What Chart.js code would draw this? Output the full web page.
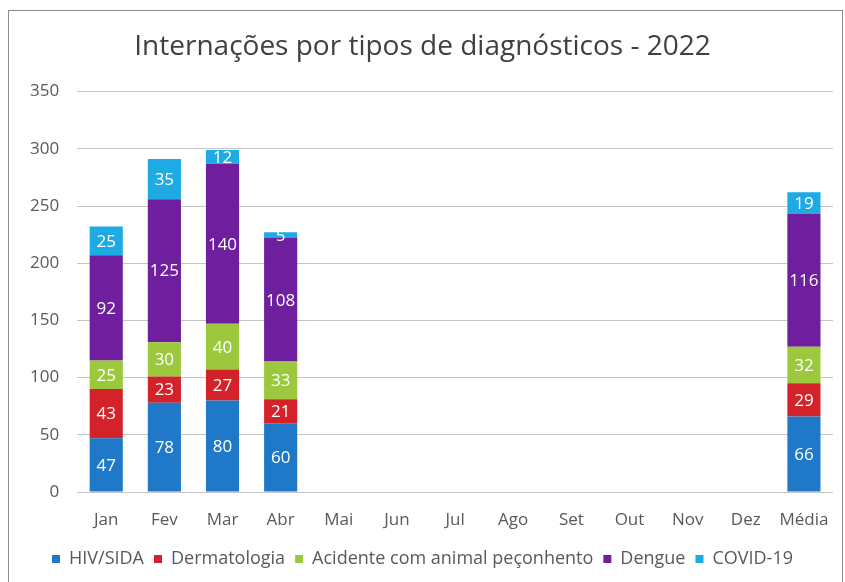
<!DOCTYPE html>
<html>
<head>
<meta charset="utf-8">
<script src="https://cdn.jsdelivr.net/npm/chart.js@4"></script>
<style>
  body { margin: 0; background: #ffffff; }
  #wrap { position: absolute; left: 0; top: 0; width: 845px; height: 582px; }
</style>
</head>
<body>
<div id="wrap"><canvas id="chart" width="845" height="582"></canvas></div>
<script>
// Categories and series
const months = ['Jan', 'Fev', 'Mar', 'Abr', 'Mai', 'Jun', 'Jul', 'Ago', 'Set', 'Out', 'Nov', 'Dez', 'Média'];
const hivSida      = [47, 78, 80, 60, null, null, null, null, null, null, null, null, 66];
const dermatologia = [43, 23, 27, 21, null, null, null, null, null, null, null, null, 29];
const acidente     = [25, 30, 40, 33, null, null, null, null, null, null, null, null, 32];
const dengue       = [92, 125, 140, 108, null, null, null, null, null, null, null, null, 116];
const covid        = [25, 35, 12, 5, null, null, null, null, null, null, null, null, 19];

const FONT = "'Open Sans', 'Liberation Sans', sans-serif";

// draws the white value inside each stacked segment
const valueLabels = {
    id: 'valueLabels',
    afterDatasetsDraw(chart) {
        const ctx = chart.ctx;
        ctx.save();
        ctx.font = '17px ' + FONT;
        ctx.fillStyle = '#ffffff';
        ctx.textAlign = 'center';
        ctx.textBaseline = 'middle';
        chart.data.datasets.forEach((ds, i) => {
            const meta = chart.getDatasetMeta(i);
            meta.data.forEach((bar, j) => {
                const v = ds.data[j];
                if (v == null) return;
                ctx.fillText(String(v), bar.x, (bar.y + bar.base) / 2 + 1);
            });
        });
        ctx.restore();
    }
};

// outer frame of the chart
const frame = {
    id: 'frame',
    beforeDraw(chart) {
        const ctx = chart.ctx;
        ctx.save();
        ctx.strokeStyle = '#8c8c8c';
        ctx.lineWidth = 1;
        ctx.strokeRect(8.5, 10.5, 834, 580);
        ctx.restore();
    }
};

const datasets = [
    { label: 'HIV/SIDA', data: hivSida, backgroundColor: '#1f78c8' },
    { label: 'Dermatologia', data: dermatologia, backgroundColor: '#d3222a' },
    { label: 'Acidente com animal peçonhento', data: acidente, backgroundColor: '#9bc83c' },
    { label: 'Dengue', data: dengue, backgroundColor: '#6f1f9e' },
    { label: 'COVID-19', data: covid, backgroundColor: '#1eaae2' }
];

new Chart(document.getElementById('chart'), {
    type: 'bar',
    data: { labels: months, datasets: datasets.map(d => ({ ...d, barPercentage: 0.57, categoryPercentage: 1 })) },
    plugins: [frame, valueLabels],
    options: {
        responsive: false,
        animation: false,
        layout: { padding: { left: 12, right: 12, top: 30, bottom: 4 } },
        plugins: {
            title: {
                display: true,
                text: 'Internações por tipos de diagnósticos - 2022',
                color: '#404040',
                font: { family: FONT, size: 28, weight: 'normal' },
                padding: { top: 0, bottom: 28 }
            },
            legend: {
                position: 'bottom',
                labels: {
                    color: '#595959',
                    font: { family: FONT, size: 18 },
                    boxWidth: 8,
                    boxHeight: 8,
                    padding: 10
                }
            },
            tooltip: { enabled: false }
        },
        scales: {
            x: {
                stacked: true,
                grid: { display: false },
                border: { display: false },
                ticks: { color: '#595959', font: { family: FONT, size: 17 }, padding: 10 },
                afterFit: (scale) => { scale.height = 48; }
            },
            y: {
                stacked: true,
                min: 0,
                max: 350,
                ticks: { stepSize: 50, color: '#595959', font: { family: FONT, size: 17 }, padding: 18 },
                grid: { color: '#c4c4c4', drawTicks: false },
                border: { display: false }
            }
        }
    }
});
</script>
</body>
</html>
